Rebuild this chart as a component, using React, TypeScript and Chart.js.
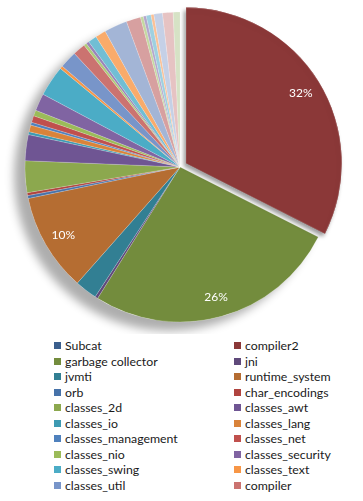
import React, { useEffect, useRef } from "react";
import { Chart, registerables } from "chart.js";

Chart.register(...registerables);

// ---- data ----
const categories = [
  "Subcat", "compiler2", "garbage collector", "jni", "jvmti", "runtime_system",
  "orb", "char_encodings", "classes_2d", "classes_awt", "classes_io", "classes_lang",
  "classes_management", "classes_net", "classes_nio", "classes_security", "classes_swing",
  "classes_text", "classes_util", "compiler",
  "other_1", "other_2", "other_3", "other_4", "other_5", "other_6", "other_7",
  "other_8", "other_9", "other_10", "other_11", "other_12", "other_13",
];

const shares = [
  0, 32.4, 26.4, 0.3, 2.3, 10.2,
  0.3, 0.3, 3.3, 2.7, 0.3, 0.7,
  0.3, 0.7, 0.6, 1.8, 3.2,
  0.3, 1.8, 1.3,
  0.3, 0.3, 0.9, 1.1, 2.4, 1.5, 0.3,
  0.3, 0.5, 0.3, 0.9, 1.1, 0.7,
];

const sliceColors = [
  "#3B5F8D", "#8B3838", "#738C3D", "#5F497A", "#327F93", "#B56D32",
  "#4672A9", "#B0443F", "#8CA84E", "#6F5593", "#3D9AB2", "#D9833A",
  "#4F81BD", "#C0504D", "#9BBB59", "#8064A2", "#4BACC6", "#F79646",
  "#7895C9", "#CB7370", "#AECB79", "#9A84B8", "#71BED4", "#F9AB6B",
  "#A3B5D6", "#D7A0A0", "#C4D8A0", "#B3A6CC", "#9ED0E0", "#FAC096",
  "#C5D0E6", "#E6C3C3", "#D6E2C5",
];

const explodedCategory = "compiler2";
const legendCount = 20;

const FONT = "Lato, 'Liberation Sans', sans-serif";

const backdropPlugin = {
  id: "backdrop",
  beforeDatasetsDraw(chart: any) {
    const meta = chart.getDatasetMeta(0);
    const a = meta.data[1];
    if (!a) return;
    const ctx = chart.ctx;
    ctx.save();
    ctx.beginPath();
    ctx.arc(a.x, a.y, a.outerRadius, 0, Math.PI * 2);
    ctx.fillStyle = "#ffffff";
    ctx.shadowColor = "rgba(0,0,0,0.32)";
    ctx.shadowBlur = 10;
    ctx.shadowOffsetX = -11;
    ctx.shadowOffsetY = 9;
    ctx.fill();
    ctx.restore();
  },
  afterDatasetsDraw(chart: any) {
    const meta = chart.getDatasetMeta(0);
    const idx = categories.indexOf(explodedCategory);
    const arc = meta.data[idx];
    const ctx = chart.ctx;
    if (arc) {
      ctx.save();
      ctx.shadowColor = "rgba(0,0,0,0.4)";
      ctx.shadowBlur = 4;
      ctx.shadowOffsetX = -2;
      ctx.shadowOffsetY = 3;
      arc.draw(ctx);
      ctx.restore();
    }
    const data = chart.data.datasets[0].data as number[];
    const total = data.reduce((s, v) => s + v, 0);
    ctx.save();
    ctx.font = "12px " + FONT;
    ctx.fillStyle = "#ffffff";
    ctx.textAlign = "center";
    ctx.textBaseline = "middle";
    meta.data.forEach((el: any, i: number) => {
      const pct = (data[i] / total) * 100;
      if (pct < 5) return;
      const mid = (el.startAngle + el.endAngle) / 2;
      const off = (el.options.offset || 0) / 4;
      const r = el.outerRadius * 0.87 + off;
      ctx.fillText(Math.round(pct) + "%", el.x + Math.cos(mid) * r, el.y + Math.sin(mid) * r);
    });
    ctx.restore();
  },
};

export default function App() {
  const ref = useRef<HTMLCanvasElement>(null);

  useEffect(() => {
    if (!ref.current) return;
    const chart = new Chart(ref.current, {
      type: "pie",
      data: {
        labels: categories,
        datasets: [
          {
            data: shares,
            backgroundColor: sliceColors,
            borderColor: "rgba(255,255,255,0.35)",
            borderWidth: 0.5,
            offset: categories.map((c) => (c === explodedCategory ? 28 : 0)),
          },
        ],
      },
      options: {
        responsive: false,
        animation: false,
        radius: 155,
        layout: { padding: 0 },
        plugins: {
          legend: { display: false },
          tooltip: { enabled: false },
        },
      } as any,
      plugins: [backdropPlugin],
    });
    return () => chart.destroy();
  }, []);

  return (
    <div style={{ position: "absolute", left: 0, top: 0, width: 363, height: 501, background: "#fff", overflow: "hidden" }}>
      <canvas ref={ref} width={360} height={334} style={{ position: "absolute", left: 0, top: 0, display: "block" }} />
      {categories.slice(0, legendCount).map((name, i) => {
        const row = Math.floor(i / 2);
        const col = i % 2;
        const top = 342 + row * 15.56;
        const left = col === 0 ? 54 : 234;
        return (
          <div key={name} style={{ position: "absolute", left, top: top - 4, height: 15, display: "flex", alignItems: "center", fontFamily: FONT, fontSize: 12.3, color: "#1a1a1a", whiteSpace: "nowrap" }}>
            <span style={{ display: "inline-block", width: 7, height: 7, background: sliceColors[i], marginRight: 4 }} />
            <span>{name}</span>
          </div>
        );
      })}
    </div>
  );
}
